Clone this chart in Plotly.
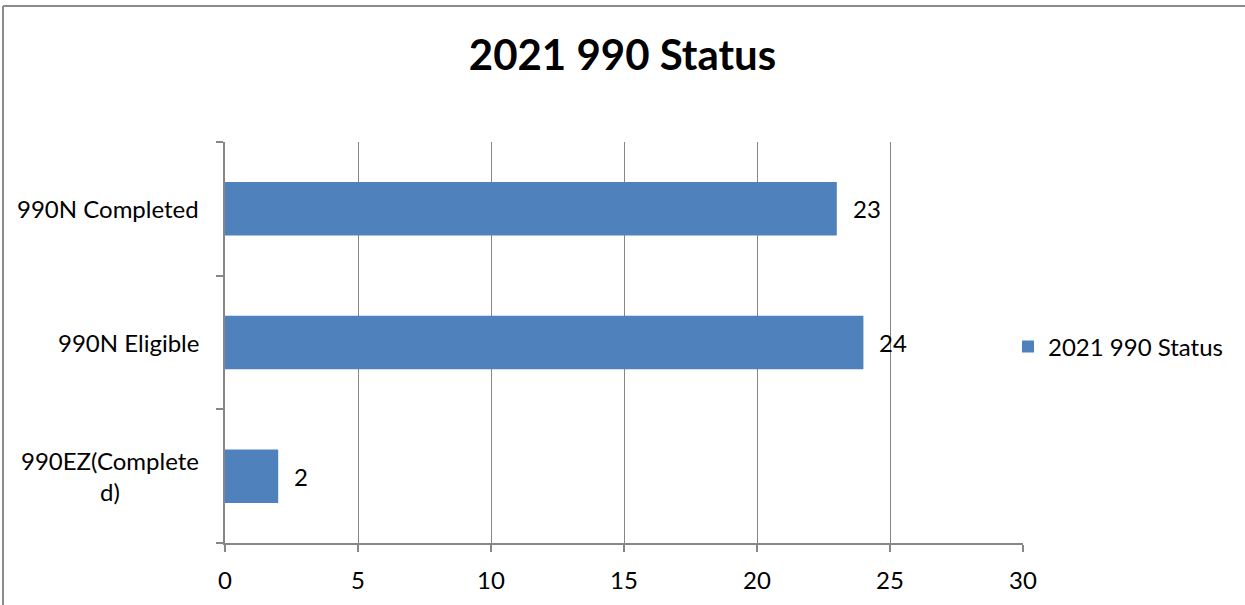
import plotly.graph_objects as go

# ---- data ----
categories = ["990N Completed", "990N Eligible", "990EZ(Completed)"]
category_labels = ["990N Completed", "990N Eligible", "990EZ(Complete<br>d)"]
values = [23, 24, 2]
series_name = "2021 990 Status"
title_text = "2021 990 Status"
x_ticks = [0, 5, 10, 15, 20, 25, 30]

FONT = "Lato"
BAR = "#4F81BD"
GRID = "#878787"

W, H = 1245, 605
ML, MR, MT, MB = 225, 222, 142, 62
PW = W - ML - MR
PH = H - MT - MB

fig = go.Figure()
fig.add_trace(go.Bar(
    x=values, y=categories, orientation="h",
    name=series_name, marker=dict(color=BAR, line=dict(width=0)),
    width=0.4, showlegend=True, hoverinfo="x+y",
))

# data labels
for c, v in zip(categories, values):
    fig.add_annotation(x=v, y=c, xref="x", yref="y", text=str(v),
                       showarrow=False, xanchor="left", yanchor="middle",
                       xshift=14, font=dict(family=FONT, size=24, color="#000"))

# category labels (centered multi-line like the original)
for c, lab in zip(categories, category_labels):
    fig.add_annotation(x=0, y=c, xref="paper", yref="y", text=lab,
                       showarrow=False, xanchor="right", yanchor="middle",
                       align="center", xshift=-24,
                       font=dict(family=FONT, size=24, color="#000"))

# outer chart border (only top and left edges are visible in the crop)
def px_x(p):
    return (p - ML) / PW

def px_y(p):
    return (H - MB - p) / PH

border = dict(color="#8A8A8A", width=2)
fig.add_shape(type="line", xref="paper", yref="paper",
              x0=px_x(3), x1=px_x(1250), y0=px_y(6), y1=px_y(6), line=border)
fig.add_shape(type="line", xref="paper", yref="paper",
              x0=px_x(3), x1=px_x(3), y0=px_y(6), y1=px_y(610), line=border)

fig.update_layout(
    width=W, height=H,
    margin=dict(l=ML, r=MR, t=MT, b=MB, pad=0, autoexpand=False),
    paper_bgcolor="white", plot_bgcolor="white",
    font=dict(family=FONT, size=24, color="#000"),
    title=dict(text="<b>" + title_text + "</b>", x=0.5, xref="container",
               xanchor="center", y=1 - 55 / H, yanchor="middle",
               font=dict(family=FONT, size=42, color="#000")),
    bargap=0.6,
    showlegend=True,
    legend=dict(x=px_x(1008), xanchor="left", y=px_y(347), yanchor="middle",
                font=dict(family=FONT, size=24, color="#000"),
                bgcolor="rgba(0,0,0,0)", borderwidth=0, itemwidth=30),
    xaxis=dict(range=[0, 30], tickmode="array", tickvals=x_ticks,
               ticktext=[str(t) for t in x_ticks],
               showgrid=True, gridcolor=GRID, gridwidth=1.3,
               showline=True, linecolor=GRID, linewidth=1.5,
               ticks="outside", ticklen=7, tickcolor=GRID, tickwidth=1.5,
               zeroline=False, ticklabelstandoff=8, automargin=False,
               tickfont=dict(family=FONT, size=24, color="#000"),
               fixedrange=True),
    yaxis=dict(type="category", categoryorder="array",
               categoryarray=categories[::-1],
               showgrid=False, showline=True, linecolor=GRID, linewidth=1.5,
               ticks="outside", tickson="boundaries", ticklen=7,
               tickcolor=GRID, tickwidth=1.5, showticklabels=False,
               zeroline=False, automargin=False, fixedrange=True),
)

fig.write_html("out.html",
               config={"displayModeBar": False},
               post_script="document.body.style.margin='0';document.body.style.overflow='hidden';")
